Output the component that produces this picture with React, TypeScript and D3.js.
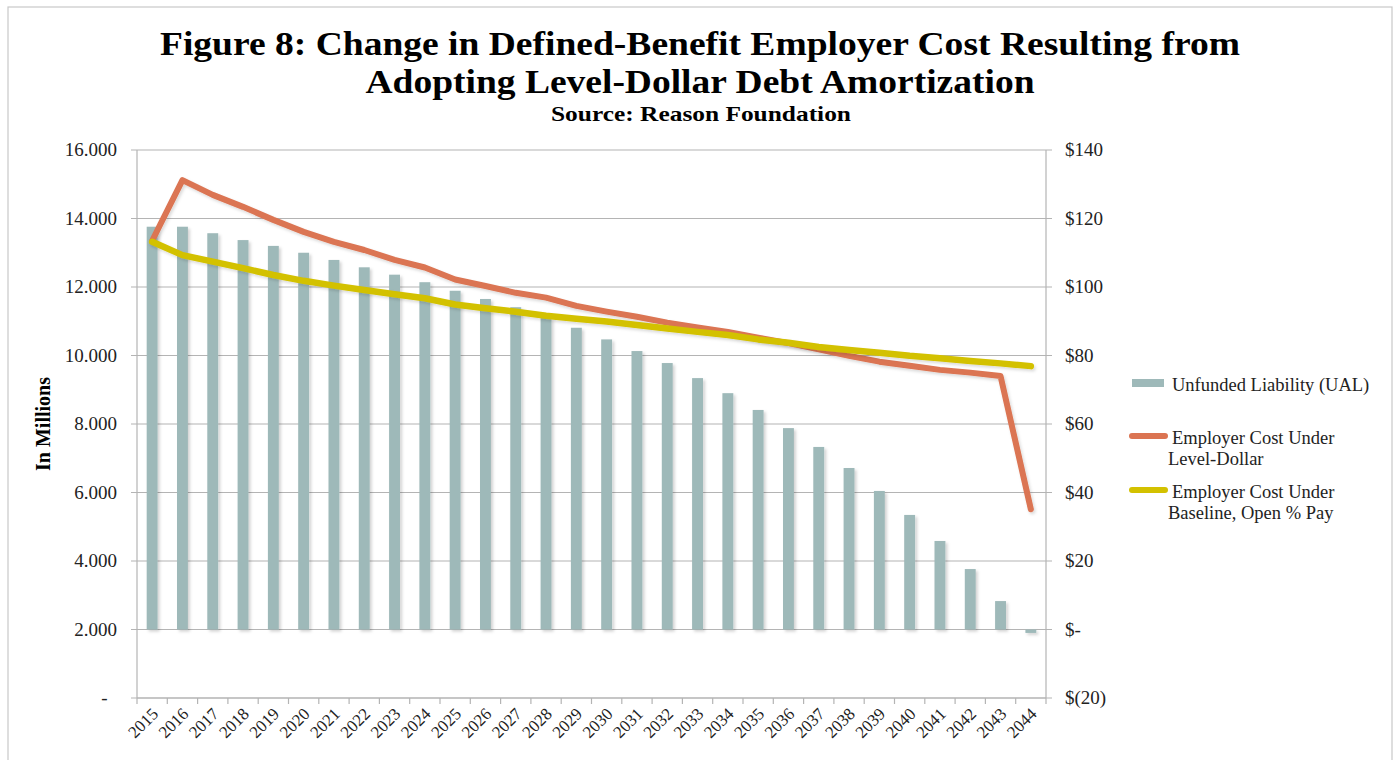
import React from "react";
import * as d3 from "d3";

const years = ["2015","2016","2017","2018","2019","2020","2021","2022","2023","2024","2025","2026","2027","2028","2029","2030","2031","2032","2033","2034","2035","2036","2037","2038","2039","2040","2041","2042","2043","2044"];

// Unfunded liability (in millions)
const ualValues = [13760,13760,13570,13370,13200,13000,12790,12575,12360,12140,11890,11650,11410,11100,10810,10470,10130,9780,9340,8900,8410,7880,7330,6715,6045,5345,4585,3765,2830,1900];
// Employer cost under level-dollar ($, right axis)
const levelDollar = [113.5,131.2,126.9,123.4,119.6,116.1,113.2,110.8,107.9,105.7,102.2,100.3,98.3,96.9,94.5,92.8,91.3,89.6,88.2,86.9,85.2,83.6,81.8,79.9,78.2,77.0,75.8,75.0,74.0,35.1];
// Employer cost under baseline, open % pay ($, right axis)
const baseline = [113.2,109.3,107.4,105.5,103.5,101.8,100.4,99.1,97.9,96.7,94.9,93.8,92.8,91.6,90.7,89.9,88.9,87.9,86.9,86.0,84.7,83.7,82.5,81.6,80.8,79.9,79.2,78.4,77.7,76.9];

const barBase = 2000;

const leftTicks = [0,2000,4000,6000,8000,10000,12000,14000,16000];
const leftTickLabels = ["-  ","2.000","4.000","6.000","8.000","10.000","12.000","14.000","16.000"];
const rightTicks = [-20,0,20,40,60,80,100,120,140];
const rightTickLabels = ["$(20)","$-","$20","$40","$60","$80","$100","$120","$140"];

const titleLines = ["Figure 8: Change in Defined-Benefit Employer Cost Resulting from","Adopting Level-Dollar Debt Amortization"];
const subtitle = "Source: Reason Foundation";
const yAxisTitle = "In Millions";
const seriesNames = ["Unfunded Liability (UAL)", ["Employer Cost Under","Level-Dollar"], ["Employer Cost Under","Baseline, Open % Pay"]];

const BAR = "#9eb9b9";
const RED = "#db7452";
const YEL = "#d3c100";
const GRID = "#b4b4b4";
const FONT = "'Liberation Serif', 'Times New Roman', serif";

export default function App() {
  const W = 1399, H = 760;
  const left = 137, right = 1046, top = 150, bottom = 698;
  const x = d3.scaleBand<string>().domain(years).range([left, right]);
  const yL = d3.scaleLinear().domain([0, 16000]).range([bottom, top]);
  const yR = d3.scaleLinear().domain([-20, 140]).range([bottom, top]);
  const bw = x.bandwidth() * 0.36;
  const cx = (y: string) => (x(y) as number) + x.bandwidth() / 2;

  const lineGen = d3.line<number>()
    .x((_, i) => cx(years[i]))
    .y((d) => yR(d));

  return (
    <svg width={W} height={H} style={{ position: "absolute", left: 0, top: 0, background: "#fff" }}>
      <defs>
        <filter id="sh" x="-50%" y="-50%" width="200%" height="200%">
          <feDropShadow dx="2" dy="2" stdDeviation="1.6" floodColor="#000" floodOpacity="0.18" />
        </filter>
        <filter id="shl" x="-10%" y="-10%" width="120%" height="120%">
          <feDropShadow dx="1.5" dy="2" stdDeviation="1.5" floodColor="#000" floodOpacity="0.15" />
        </filter>
      </defs>
      <rect x={8} y={7} width={1384} height={770} fill="none" stroke="#c8c8c8" strokeWidth={1.2} />

      {/* Titles */}
      <g fontFamily={FONT} fontWeight="bold" textAnchor="middle" fill="#000">
        <text x={700} y={55} fontSize={33} textLength={1080} lengthAdjust="spacingAndGlyphs">{titleLines[0]}</text>
        <text x={700} y={93} fontSize={33} textLength={669} lengthAdjust="spacingAndGlyphs">{titleLines[1]}</text>
        <text x={701} y={121} fontSize={21.5} textLength={300} lengthAdjust="spacingAndGlyphs">{subtitle}</text>
      </g>

      {/* Gridlines */}
      <g>
        {leftTicks.map((t) => (
          <line key={t} x1={left - 6} x2={right + 6} y1={yL(t)} y2={yL(t)} stroke={GRID} strokeWidth={1.2} />
        ))}
      </g>
      {/* Axes */}
      <line x1={left} x2={left} y1={top} y2={bottom} stroke={GRID} strokeWidth={1.2} />
      <line x1={right} x2={right} y1={top} y2={bottom} stroke={GRID} strokeWidth={1.2} />
      <line x1={left} x2={right} y1={bottom} y2={bottom} stroke={GRID} strokeWidth={1.2} />
      {years.map((yr) => (
        <line key={"t" + yr} x1={x(yr)} x2={x(yr)} y1={bottom} y2={bottom + 6} stroke={GRID} strokeWidth={1.2} />
      ))}
      <line x1={right} x2={right} y1={bottom} y2={bottom + 6} stroke={GRID} strokeWidth={1.2} />

      {/* Bars */}
      <g filter="url(#sh)">
        {ualValues.map((v, i) => {
          const y0 = yL(barBase), y1 = yL(v);
          return (
            <rect key={i} x={cx(years[i]) - bw / 2} y={Math.min(y0, y1)} width={bw}
              height={Math.max(Math.abs(y1 - y0), 2)} fill={BAR} />
          );
        })}
      </g>

      {/* Lines */}
      <path d={lineGen(levelDollar) || ""} fill="none" stroke={RED} strokeWidth={6} strokeLinejoin="round" strokeLinecap="round" filter="url(#shl)" />
      <path d={lineGen(baseline) || ""} fill="none" stroke={YEL} strokeWidth={6.5} strokeLinejoin="round" strokeLinecap="round" filter="url(#shl)" />

      {/* Left tick labels */}
      <g fontFamily={FONT} fontSize={19} fill="#222" textAnchor="end">
        {leftTicks.map((t, i) => (
          <text key={t} x={117} y={yL(t) + 6} style={{ whiteSpace: "pre" }}>{leftTickLabels[i]}</text>
        ))}
      </g>
      {/* Right tick labels */}
      <g fontFamily={FONT} fontSize={19} fill="#222" textAnchor="start">
        {rightTicks.map((t, i) => (
          <text key={t} x={1065} y={yR(t) + 6}>{rightTickLabels[i]}</text>
        ))}
      </g>
      {/* X labels */}
      <g fontFamily={FONT} fontSize={17} fill="#222" textAnchor="end">
        {years.map((yr) => (
          <text key={yr} transform={`translate(${cx(yr) + 7},${bottom + 17}) rotate(-45)`}>{yr}</text>
        ))}
      </g>
      {/* Y axis title */}
      <text transform={`translate(50,${(top + bottom) / 2}) rotate(-90)`} textAnchor="middle"
        fontFamily={FONT} fontWeight="bold" fontSize={20} fill="#000">{yAxisTitle}</text>

      {/* Legend */}
      <g fontFamily={FONT} fontSize={18.5} fill="#222">
        <rect x={1132} y={379} width={32} height={8} fill={BAR} />
        <text x={1172} y={391}>{seriesNames[0] as string}</text>
        <line x1={1132} x2={1165} y1={436} y2={436} stroke={RED} strokeWidth={6} strokeLinecap="round" />
        <text x={1172} y={444}>{(seriesNames[1] as string[])[0]}</text>
        <text x={1168} y={465}>{(seriesNames[1] as string[])[1]}</text>
        <line x1={1132} x2={1165} y1={490} y2={490} stroke={YEL} strokeWidth={6} strokeLinecap="round" />
        <text x={1172} y={498}>{(seriesNames[2] as string[])[0]}</text>
        <text x={1168} y={519}>{(seriesNames[2] as string[])[1]}</text>
      </g>
    </svg>
  );
}
